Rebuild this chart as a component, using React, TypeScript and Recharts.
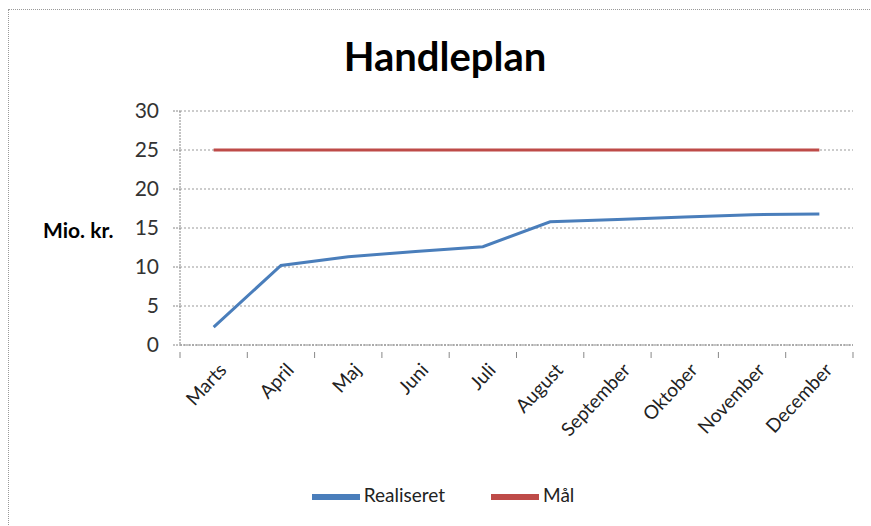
import React from 'react';
import { LineChart, Line, XAxis, YAxis, CartesianGrid, Legend } from 'recharts';

const months = ['Marts', 'April', 'Maj', 'Juni', 'Juli', 'August', 'September', 'Oktober', 'November', 'December'];
const realiseret = [2.3, 10.2, 11.3, 12.0, 12.6, 15.8, 16.1, 16.4, 16.7, 16.8];
const maal = [25, 25, 25, 25, 25, 25, 25, 25, 25, 25];
const yTicks = [0, 5, 10, 15, 20, 25, 30];
const seriesOrder = ['Realiseret', 'Mål'];

const data = months.map((m, i) => ({ name: m, Realiseret: realiseret[i], 'Mål': maal[i] }));

const FONT = 'Lato, "Open Sans", sans-serif';
const HALF_BAND = 33.65;

const MonthTick = (props: any) => {
  const { x, y, payload, index } = props;
  return (
    <g transform={`translate(${x},${y})`}>
      <line x1={-HALF_BAND} y1={-1} x2={-HALF_BAND} y2={5} stroke="#888" />
      {index === months.length - 1 && (
        <line x1={HALF_BAND} y1={-1} x2={HALF_BAND} y2={5} stroke="#888" />
      )}
      <text
        x={0}
        y={0}
        transform="translate(14,18) rotate(-47)"
        textAnchor="end"
        fill="#222"
        fontSize={19}
        fontFamily={FONT}
      >
        {payload.value}
      </text>
    </g>
  );
};

export default function App() {
  return (
    <div style={{ position: 'absolute', left: 0, top: 0, width: 871, height: 526, background: '#fff', overflow: 'hidden', fontFamily: FONT }}>
      <div style={{ position: 'absolute', left: 8, top: 9, width: 870, height: 540, border: '1px dotted #999', boxSizing: 'border-box' }} />
      <div style={{ position: 'absolute', left: 0, width: 890, top: 32, textAlign: 'center', fontSize: 40, fontWeight: 'bold', color: '#000', lineHeight: '48px' }}>
        Handleplan
      </div>
      <div style={{ position: 'absolute', left: 43, top: 217, fontSize: 21, fontWeight: 'bold', color: '#000', lineHeight: '26px' }}>
        Mio. kr.
      </div>
      <LineChart width={871} height={526} data={data} margin={{ top: 111, right: 18, left: 120, bottom: 0 }}>
        <CartesianGrid vertical={false} stroke="#999" strokeDasharray="2 2" />
        <XAxis
          dataKey="name"
          interval={0}
          height={128}
          padding={{ left: HALF_BAND, right: HALF_BAND }}
          tickLine={false}
          stroke="#888"
          strokeDasharray="2 1"
          tick={<MonthTick />}
        />
        <YAxis
          width={60}
          domain={[0, 30]}
          ticks={yTicks}
          tickSize={7}
          tickMargin={14}
          stroke="#888"
          strokeDasharray="2 1"
          tick={{ fill: '#333', fontSize: 21, fontFamily: FONT }}
        />
        <Legend
          verticalAlign="bottom"
          height={53}
          iconType="plainline"
          iconSize={48}
          itemSorter={(item: any) => seriesOrder.indexOf(item.value)}
          wrapperStyle={{ left: 0, width: 896, fontSize: 19, fontFamily: FONT, color: '#222' }}
          formatter={(v: string) => (
            <span style={{ color: '#222', marginRight: v === 'Realiseret' ? 36 : 0 }}>{v}</span>
          )}
        />
        <Line dataKey="Realiseret" stroke="#4a7ebb" strokeWidth={3} dot={false} isAnimationActive={false} />
        <Line dataKey="Mål" stroke="#be4b48" strokeWidth={3} dot={false} isAnimationActive={false} />
      </LineChart>
    </div>
  );
}
